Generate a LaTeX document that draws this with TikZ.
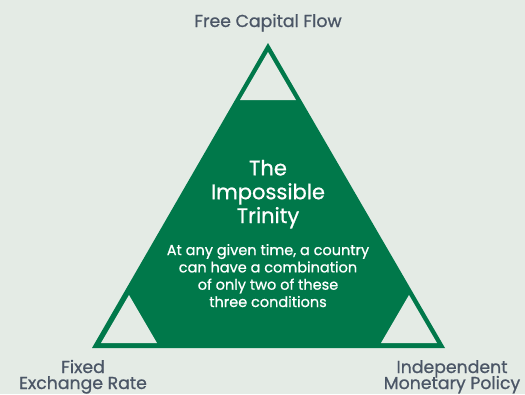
\documentclass[tikz,border=0pt]{standalone}
\usepackage{fontspec}
\setmainfont{Poppins}
\newfontfamily\medfont{Poppins}[FakeBold=0.8]
\definecolor{bg}{HTML}{E4EBE5}
\definecolor{tgreen}{HTML}{00784A}
\definecolor{lbl}{HTML}{4B5666}
\begin{document}
\begin{tikzpicture}[x=1pt,y=-1pt,
  lab/.style={text=lbl,font=\medfont\fontsize{17.3}{16}\selectfont,align=center,inner sep=0pt,anchor=base},
  hole/.style={fill=bg}]
\fill[bg] (0,0) rectangle (525,394);
\useasboundingbox (0,0) rectangle (525,394);
% big triangle
\fill[tgreen] (268,43) -- (445,348) -- (92,348) -- cycle;
% corner holes
\fill[hole] (268,52) -- (296,100) -- (240,100) -- cycle;
\fill[hole] (129,295) -- (157,343) -- (101,343) -- cycle;
\fill[hole] (409,295) -- (437,343) -- (381,343) -- cycle;
% labels
\node[lab] (top) at (268,27) {Free Capital Flow};
\node[lab] (fx1) at (83,373) {Fixed};
\node[lab] (fx2) at (83,389) {Exchange Rate};
\node[lab] (mp1) at (452,373) {Independent};
\node[lab] (mp2) at (452,389) {Monetary Policy};
% title
\node[text=white,font=\medfont\fontsize{21}{23.8}\selectfont,align=center,inner sep=0pt,anchor=base] (title) at (268,223) {The\\Impossible\\Trinity};
\node[text=white,font=\medfont\fontsize{14.5}{17.3}\selectfont,align=center,inner sep=0pt,anchor=base] (body) at (268,307) {At any given time, a country\\can have a combination\\of only two of these\\three conditions};
\end{tikzpicture}
\end{document}
